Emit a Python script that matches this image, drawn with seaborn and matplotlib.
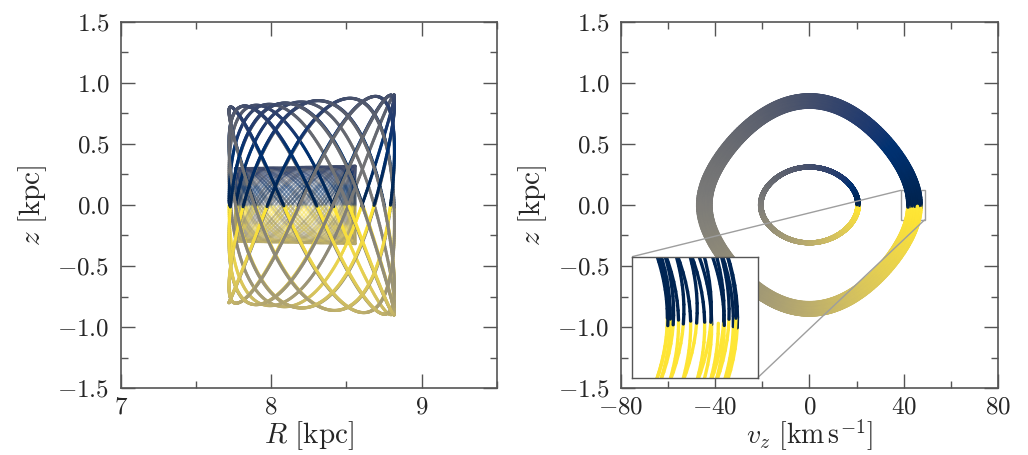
import numpy as np
import matplotlib
matplotlib.use("Agg")
import matplotlib.pyplot as plt
import seaborn as sns
from matplotlib.collections import LineCollection
from matplotlib.ticker import MultipleLocator
from mpl_toolkits.axes_grid1.inset_locator import mark_inset

sns.set_theme(style="ticks")
plt.rcParams.update({
    "font.family": "serif",
    "font.serif": ["cmr10", "DejaVu Serif"],
    "mathtext.fontset": "cm",
    "axes.formatter.use_mathtext": True,
})

# orbit parameters
OUTER_R = [7.72, 8.82]        # radial turning points [kpc]
OUTER_ZMAX = [0.80, 0.90]     # vertical amplitude at the two R edges [kpc]
OUTER_VZMAX = [41.8, 47.4]    # |v_z| crossing the plane at the two R edges [km/s]
OUTER_RATIO = 1.55            # vertical / radial frequency
OUTER_NZ = 18                 # vertical periods shown

INNER_R = [7.76, 8.56]
INNER_ZMAX = [0.30, 0.32]
INNER_VZMAX = [20.0, 21.3]
INNER_RATIO = 1.83
INNER_NZ = 70

H_Z = 0.33                    # scale height of the ln cosh vertical potential [kpc]
STEPS_PER_PERIOD = 301.7

INSET_X = [39, 49]
INSET_Y = [-0.12, 0.12]

cmap = sns.color_palette("cividis", as_cmap=True)
EDGE = "#555555"


def quarter_table(zmax, n=800):
    # time along a quarter of the vertical oscillation, as function of angle phi (z = zmax sin phi)
    phi_mid = (np.arange(n) + 0.5) / n * np.pi / 2
    e = np.log(np.cosh(zmax / H_Z))
    v = np.sqrt(2 * (e - np.log(np.cosh(zmax * np.sin(phi_mid) / H_Z))))
    dt = zmax * np.cos(phi_mid) / v
    t = np.concatenate([[0], np.cumsum(dt)])
    return t / t[-1], np.linspace(0, np.pi / 2, n + 1), e


def orbit(r_lim, zmax_lim, vz_lim, ratio, n_z, phase0=0.0):
    zm = np.mean(zmax_lim)
    tq, phq, e = quarter_table(zm)
    tau = np.arange(int(n_z * STEPS_PER_PERIOD) + 1) / STEPS_PER_PERIOD
    psi = tau % 1.0
    q = np.minimum((psi * 4).astype(int), 3)
    u = psi * 4 - q
    u = np.where(q % 2 == 1, 1 - u, u)
    ph = np.interp(u, tq, phq)
    zn = np.sin(ph) * np.where(q >= 2, -1, 1)
    vn = np.sqrt(np.clip(e - np.log(np.cosh(zm * np.sin(ph) / H_Z)), 0, None) / e)
    vn = vn * np.where((q == 0) | (q == 3), 1, -1)
    rc = 0.5 * (r_lim[0] + r_lim[1])
    ar = 0.5 * (r_lim[1] - r_lim[0])
    R = rc - ar * np.cos(2 * np.pi * tau / ratio + phase0)
    f = (R - r_lim[0]) / (r_lim[1] - r_lim[0])
    z = zn * (zmax_lim[0] + f * (zmax_lim[1] - zmax_lim[0]))
    vz = vn * (vz_lim[0] + f * (vz_lim[1] - vz_lim[0]))
    return R, z, vz, psi


def colored_line(ax, x, y, c, lw, alpha=1.0):
    pts = np.column_stack([x, y])
    segs = np.stack([pts[:-1], pts[1:]], axis=1)
    lc = LineCollection(segs, cmap=cmap, norm=plt.Normalize(0, 1),
                        linewidths=lw, alpha=alpha, capstyle="round")
    lc.set_array(c[1:])
    ax.add_collection(lc)
    return lc


R_o, z_o, vz_o, psi_o = orbit(OUTER_R, OUTER_ZMAX, OUTER_VZMAX, OUTER_RATIO, OUTER_NZ, 0.4)
R_i, z_i, vz_i, psi_i = orbit(INNER_R, INNER_ZMAX, INNER_VZMAX, INNER_RATIO, INNER_NZ, 1.1)

fig = plt.figure(figsize=(10.28, 4.55), dpi=100)
ax1 = fig.add_axes([0.1174, 0.1466, 0.3658, 0.806])
ax2 = fig.add_axes([0.604, 0.1466, 0.3667, 0.806])

colored_line(ax1, R_i, z_i, psi_i, 1.6, alpha=0.17)
colored_line(ax1, R_o, z_o, psi_o, 2.2, alpha=0.95)

colored_line(ax2, vz_i, z_i, psi_i, 1.8)
colored_line(ax2, vz_o, z_o, psi_o, 2.6)

ax1.set_xlim(7, 9.5)
ax2.set_xlim(-80, 80)
ax1.xaxis.set_major_locator(MultipleLocator(1))
ax1.xaxis.set_minor_locator(MultipleLocator(0.5))
ax2.xaxis.set_major_locator(MultipleLocator(40))
ax2.xaxis.set_minor_locator(MultipleLocator(20))
for ax in (ax1, ax2):
    ax.set_ylim(-1.5, 1.5)
    ax.yaxis.set_major_locator(MultipleLocator(0.5))
    ax.yaxis.set_minor_locator(MultipleLocator(0.25))
    ax.tick_params(which="both", direction="in", top=True, right=True,
                   color=EDGE, labelsize=18, pad=8)
    ax.tick_params(axis="x", which="both", pad=6)
    ax.tick_params(which="major", length=10, width=1.0)
    ax.tick_params(which="minor", length=5, width=1.0)
    for s in ax.spines.values():
        s.set_color(EDGE)
        s.set_linewidth(1.2)
    ax.set_ylabel(r"$z\ [\mathrm{kpc}]$", fontsize=21, labelpad=6)

ax1.set_xlabel(r"$R\ [\mathrm{kpc}]$", fontsize=21, labelpad=0)
ax2.set_xlabel(r"$v_z\ [\mathrm{km\,s^{-1}}]$", fontsize=20, labelpad=-1)

axins = ax2.inset_axes([0.03, 0.029, 0.333, 0.33])
colored_line(axins, vz_o, z_o, psi_o, 2.4)
axins.set_xlim(*INSET_X)
axins.set_ylim(*INSET_Y)
axins.set_xticks([])
axins.set_yticks([])
for s in axins.spines.values():
    s.set_color(EDGE)
    s.set_linewidth(1.0)
mark_inset(ax2, axins, loc1=2, loc2=4, fc="none", ec="0.62", lw=1.0)

fig.savefig("out.png", dpi=100)
